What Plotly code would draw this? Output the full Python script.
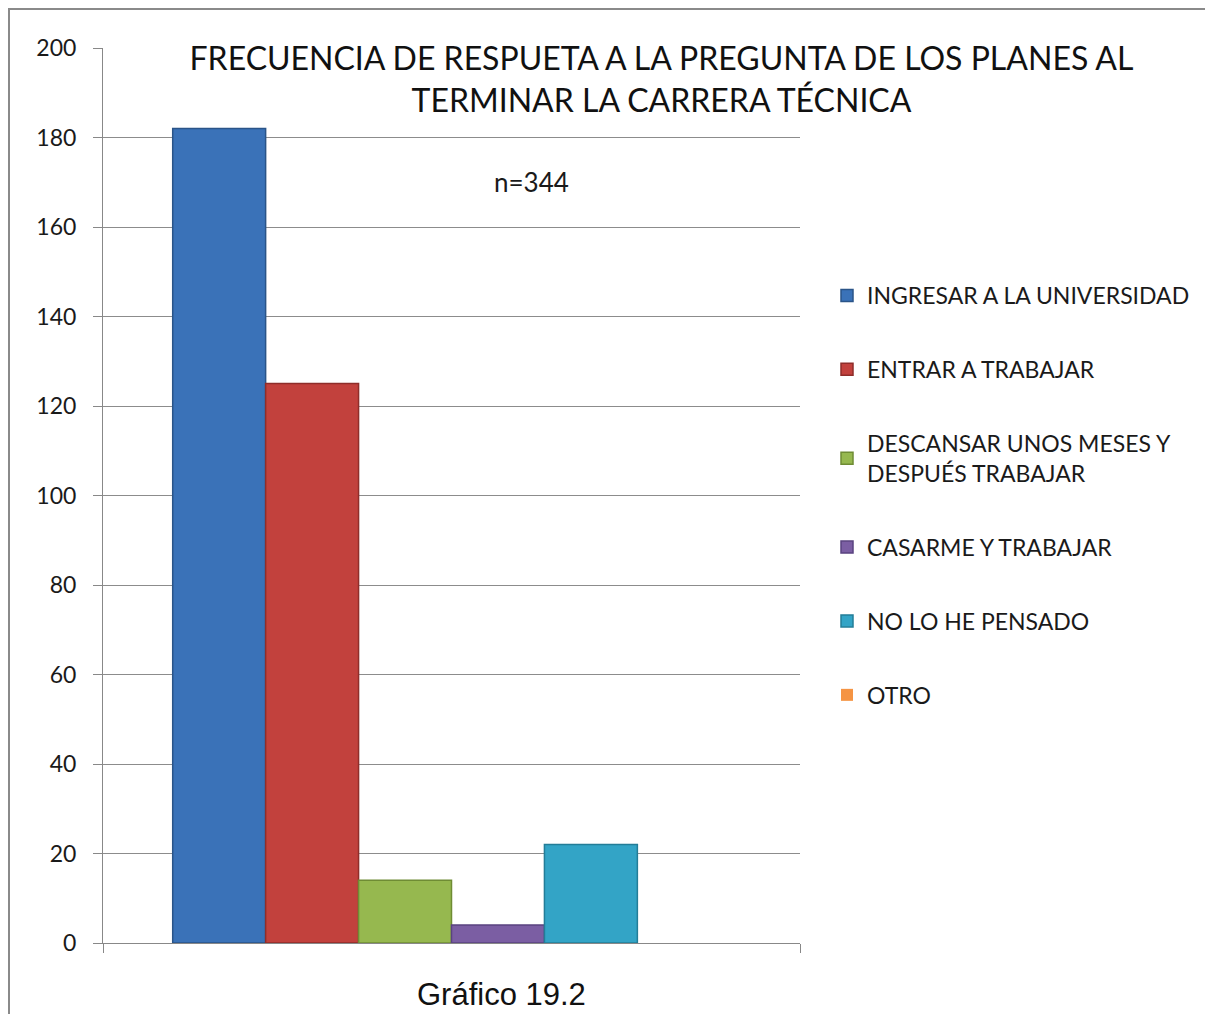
import plotly.graph_objects as go

# respuestas y frecuencias (n=344)
categorias = [
    "INGRESAR A LA UNIVERSIDAD",
    "ENTRAR A TRABAJAR",
    "DESCANSAR UNOS MESES Y<br>DESPUÉS TRABAJAR",
    "CASARME Y TRABAJAR",
    "NO LO HE PENSADO",
    "OTRO",
]
frecuencias = [182, 125, 14, 4, 22, 0]
grupo = ["Planes"]
y_ticks = [0, 20, 40, 60, 80, 100, 120, 140, 160, 180, 200]
y_grid = [20, 40, 60, 80, 100, 120, 140, 160, 180]

colores = ["#3a72b8", "#c2413d", "#96b84f", "#7b5ea3", "#33a4c6", "#f59443"]
bordes = ["#2a5488", "#8f2d2a", "#6f8c34", "#5a4380", "#237d98", "#c86f26"]

# el html deja 8px de margen en la pagina: todo se corre 8px
OFF = 8
PL, PR, PT, PB = 103, 800, 48, 943   # area de trazado en la captura
W, H = 1213, 1014


def px(x):
    return (x - PL) / (PR - PL)


def py(y):
    return (PB - y) / (PB - PT)


fig = go.Figure()
for i, cat in enumerate(categorias):
    fig.add_trace(go.Bar(
        x=grupo, y=[frecuencias[i]], name=cat,
        marker=dict(color=colores[i],
                    line=dict(color=bordes[i], width=1.5 if frecuencias[i] > 0 else 0)),
        legendgroup=str(i), yaxis="y",
    ))

# eje auxiliar solo para las lineas de cuadricula (sin la de 200)
fig.add_trace(go.Scatter(x=grupo, y=[None], yaxis="y2", showlegend=False, hoverinfo="skip"))

fig.update_layout(
    width=W, height=H,
    margin=dict(l=PL - OFF, r=W - (PR - OFF), t=PT - OFF, b=H - (PB - OFF)),
    paper_bgcolor="white", plot_bgcolor="white",
    font=dict(family="Lato", size=23, color="#1a1a1a"),
    barmode="group", bargap=0.2, bargroupgap=0,
    title=dict(
        text="FRECUENCIA DE RESPUETA A LA PREGUNTA DE LOS PLANES AL<br>TERMINAR LA CARRERA TÉCNICA",
        x=(661.5 - OFF) / W, xref="container", xanchor="center",
        y=1 - (70 - OFF) / H, yref="container", yanchor="middle",
        font=dict(family="Lato", size=32, color="#111111"),
    ),
    xaxis=dict(
        type="category", showticklabels=False, tickson="boundaries",
        ticks="outside", ticklen=9, tickcolor="#888888",
        showline=True, linecolor="#888888", linewidth=1, showgrid=False,
    ),
    yaxis=dict(
        range=[0, 200], tickvals=y_ticks, showgrid=False, zeroline=False,
        ticks="outside", ticklen=9, tickcolor="#888888",
        showline=True, linecolor="#888888", linewidth=1,
        ticklabelstandoff=12, tickfont=dict(size=23, color="#1a1a1a"),
    ),
    yaxis2=dict(
        overlaying="y", range=[0, 200], tickvals=y_grid, showticklabels=False,
        showgrid=True, gridcolor="#8c8c8c", gridwidth=1, zeroline=False, ticks="",
    ),
    legend=dict(
        x=px(827), xanchor="left", y=py(274), yanchor="top",
        font=dict(family="Lato", size=23, color="#1a1a1a"),
        tracegroupgap=41, itemwidth=30, bgcolor="rgba(0,0,0,0)",
        traceorder="grouped",
    ),
    annotations=[
        dict(text="n=344", x=px(531), y=py(182), xanchor="center", yanchor="middle",
             xref="paper", yref="paper", showarrow=False,
             font=dict(family="Lato", size=26, color="#1a1a1a")),
        dict(text="Gráfico 19.2", x=px(501), y=py(994), xanchor="center", yanchor="middle",
             xref="paper", yref="paper", showarrow=False,
             font=dict(family="Liberation Sans", size=31, color="#111111")),
    ],
    shapes=[
        dict(type="rect", xref="paper", yref="paper",
             x0=px(OFF + 1), x1=px(1240), y0=py(1040), y1=py(OFF + 1),
             line=dict(color="#8a8a8a", width=2), layer="below"),
    ],
)

fig.write_html("out.html")
